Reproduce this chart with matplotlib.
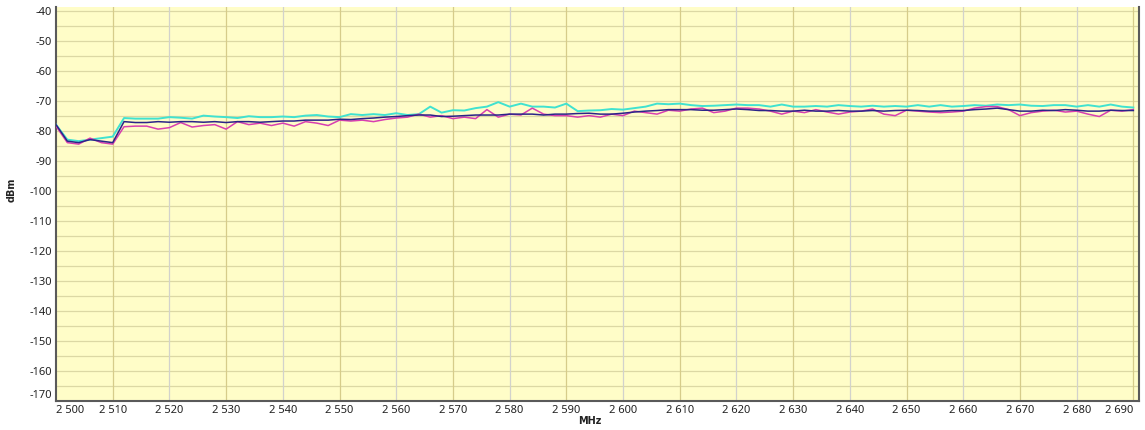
import numpy as np
import matplotlib
matplotlib.use("Agg")
import matplotlib.pyplot as plt

freq_mhz = np.arange(2500, 2691, 2)

cyan_dbm = [
    -78, -83, -83.5, -83, -82.5, -82, -75.8, -76, -76, -76,
    -75.5, -75.7, -76, -75, -75.3, -75.5, -75.8, -75.2, -75.5, -75.5,
    -75.3, -75.5, -75, -74.8, -75.3, -75.5, -74.5, -74.8, -74.5, -74.8,
    -74.2, -74.8, -74.5, -72, -74, -73.2, -73.3, -72.5, -72, -70.5,
    -72, -71, -72, -72, -72.3, -71, -73.5, -73.3, -73.2, -72.8,
    -73, -72.5, -72, -71, -71.2, -71, -71.5, -71.8, -71.7, -71.5,
    -71.3, -71.5, -71.5, -72, -71.3, -72, -72, -71.8, -72, -71.5,
    -71.8, -72, -71.7, -72, -71.8, -72, -71.5, -72, -71.5, -72,
    -71.8, -71.5, -71.7, -71.3, -71.5, -71.3, -71.7, -71.8, -71.5, -71.5,
    -72, -71.5, -72, -71.3, -72, -72.3,
]
navy_dbm = [
    -78, -83.5, -84, -83, -83.5, -84, -77, -77.3, -77.3, -77,
    -77.2, -77, -77, -77.2, -77, -77.3, -77, -77, -77.2, -77,
    -76.8, -76.8, -76.5, -76.5, -76.5, -76.2, -76.3, -76, -75.8, -75.5,
    -75.3, -75, -74.8, -74.8, -75.3, -75.2, -75, -74.8, -74.8, -74.8,
    -74.5, -74.5, -74.5, -74.8, -74.5, -74.5, -74.3, -74.2, -74.5, -74.5,
    -74.2, -73.8, -73.5, -73.3, -73, -73, -73, -73.2, -73.2, -73,
    -72.8, -73, -73.3, -73.3, -73.5, -73.5, -73.2, -73.5, -73.5, -73.3,
    -73.5, -73.5, -73.3, -73.5, -73.3, -73.2, -73.3, -73.5, -73.5, -73.3,
    -73.3, -73, -72.8, -72.5, -73, -73.5, -73.5, -73.2, -73.3, -73,
    -73.2, -73.5, -73.5, -73.2, -73.3, -73.3,
]
magenta_dbm = [
    -78.5, -84, -84.5, -82.5, -84, -84.5, -78.7, -78.5, -78.5, -79.5,
    -79, -77.3, -78.8, -78.3, -78, -79.5, -77, -78, -77.5, -78.3,
    -77.5, -78.5, -77, -77.5, -78.3, -76.5, -76.8, -76.5, -77, -76.3,
    -75.8, -75.5, -74.5, -75.5, -75, -76, -75.5, -76, -73, -75.5,
    -74.5, -74.8, -72.5, -74.5, -75, -75, -75.5, -75, -75.5, -74.5,
    -75, -73.5, -74, -74.5, -73.2, -73.5, -72.8, -72.5, -74, -73.5,
    -72.5, -72.5, -72.8, -73.5, -74.5, -73.5, -74, -73, -73.8, -74.5,
    -73.8, -73.5, -72.8, -74.5, -75, -73.2, -73.5, -73.8, -74, -73.8,
    -73.5, -72.5, -72, -72, -73, -75, -74, -73.5, -73.2, -73.8,
    -73.5, -74.5, -75.3, -73.2, -73.5, -73,
]

x_ticks = list(range(2500, 2691, 10))
x_tick_labels = ["2 %03d" % (t - 2000) for t in x_ticks]
y_ticks = list(range(-170, -39, 10))

fig = plt.figure(figsize=(11.45, 4.30), dpi=100)
ax = fig.add_axes([56 / 1145, 29.3 / 430, 1083 / 1145, 393.7 / 430])
ax.set_facecolor("#fffdc8")

# horizontal grid every 5 dB
for yv in range(-165, -39, 5):
    ax.axhline(yv, color="#dcd8a4", lw=0.9, zorder=1)
# vertical grid alternating olive / gray
for i, xv in enumerate(x_ticks[1:]):
    col = "#d6cc8a" if i % 2 == 0 else "#d2d2cc"
    ax.axvline(xv, color=col, lw=0.9, zorder=1)

ax.plot(freq_mhz, cyan_dbm, color="#40e2d0", lw=1.4, zorder=3)
ax.plot(freq_mhz, magenta_dbm, color="#d83fb0", lw=1.1, zorder=4)
ax.plot(freq_mhz, navy_dbm, color="#2a2488", lw=1.1, zorder=5)

ax.set_xlim(2500, 2691)
ax.set_ylim(-170, -38.8)

ax.set_xticks(x_ticks)
ax.set_xticklabels(x_tick_labels)
ax.set_yticks(y_ticks)
ax.set_yticklabels([str(v) for v in y_ticks])
ax.tick_params(axis="both", length=0, labelsize=8, labelcolor="#222222", pad=3)
for lab in ax.get_xticklabels() + ax.get_yticklabels():
    lab.set_fontfamily("Noto Sans")
xl = ax.get_xticklabels()
xl[0].set_horizontalalignment("left")
xl[-1].set_horizontalalignment("right")
yl = ax.get_yticklabels()
yl[0].set_verticalalignment("bottom")

ax.spines["top"].set_visible(False)
for s in ["left", "bottom", "right"]:
    ax.spines[s].set_color("#5a5a5a")
    ax.spines[s].set_linewidth(1.5)

fig.text(12 / 1145, 1 - 190 / 430, "dBm", rotation=90, ha="center", va="center",
         fontsize=7, fontweight="bold", family="DejaVu Sans", color="#222222")
fig.text(590 / 1145, 1 - 421 / 430, "MHz", ha="center", va="center",
         fontsize=7, fontweight="bold", family="DejaVu Sans", color="#222222")

fig.savefig("out.png", dpi=100)
